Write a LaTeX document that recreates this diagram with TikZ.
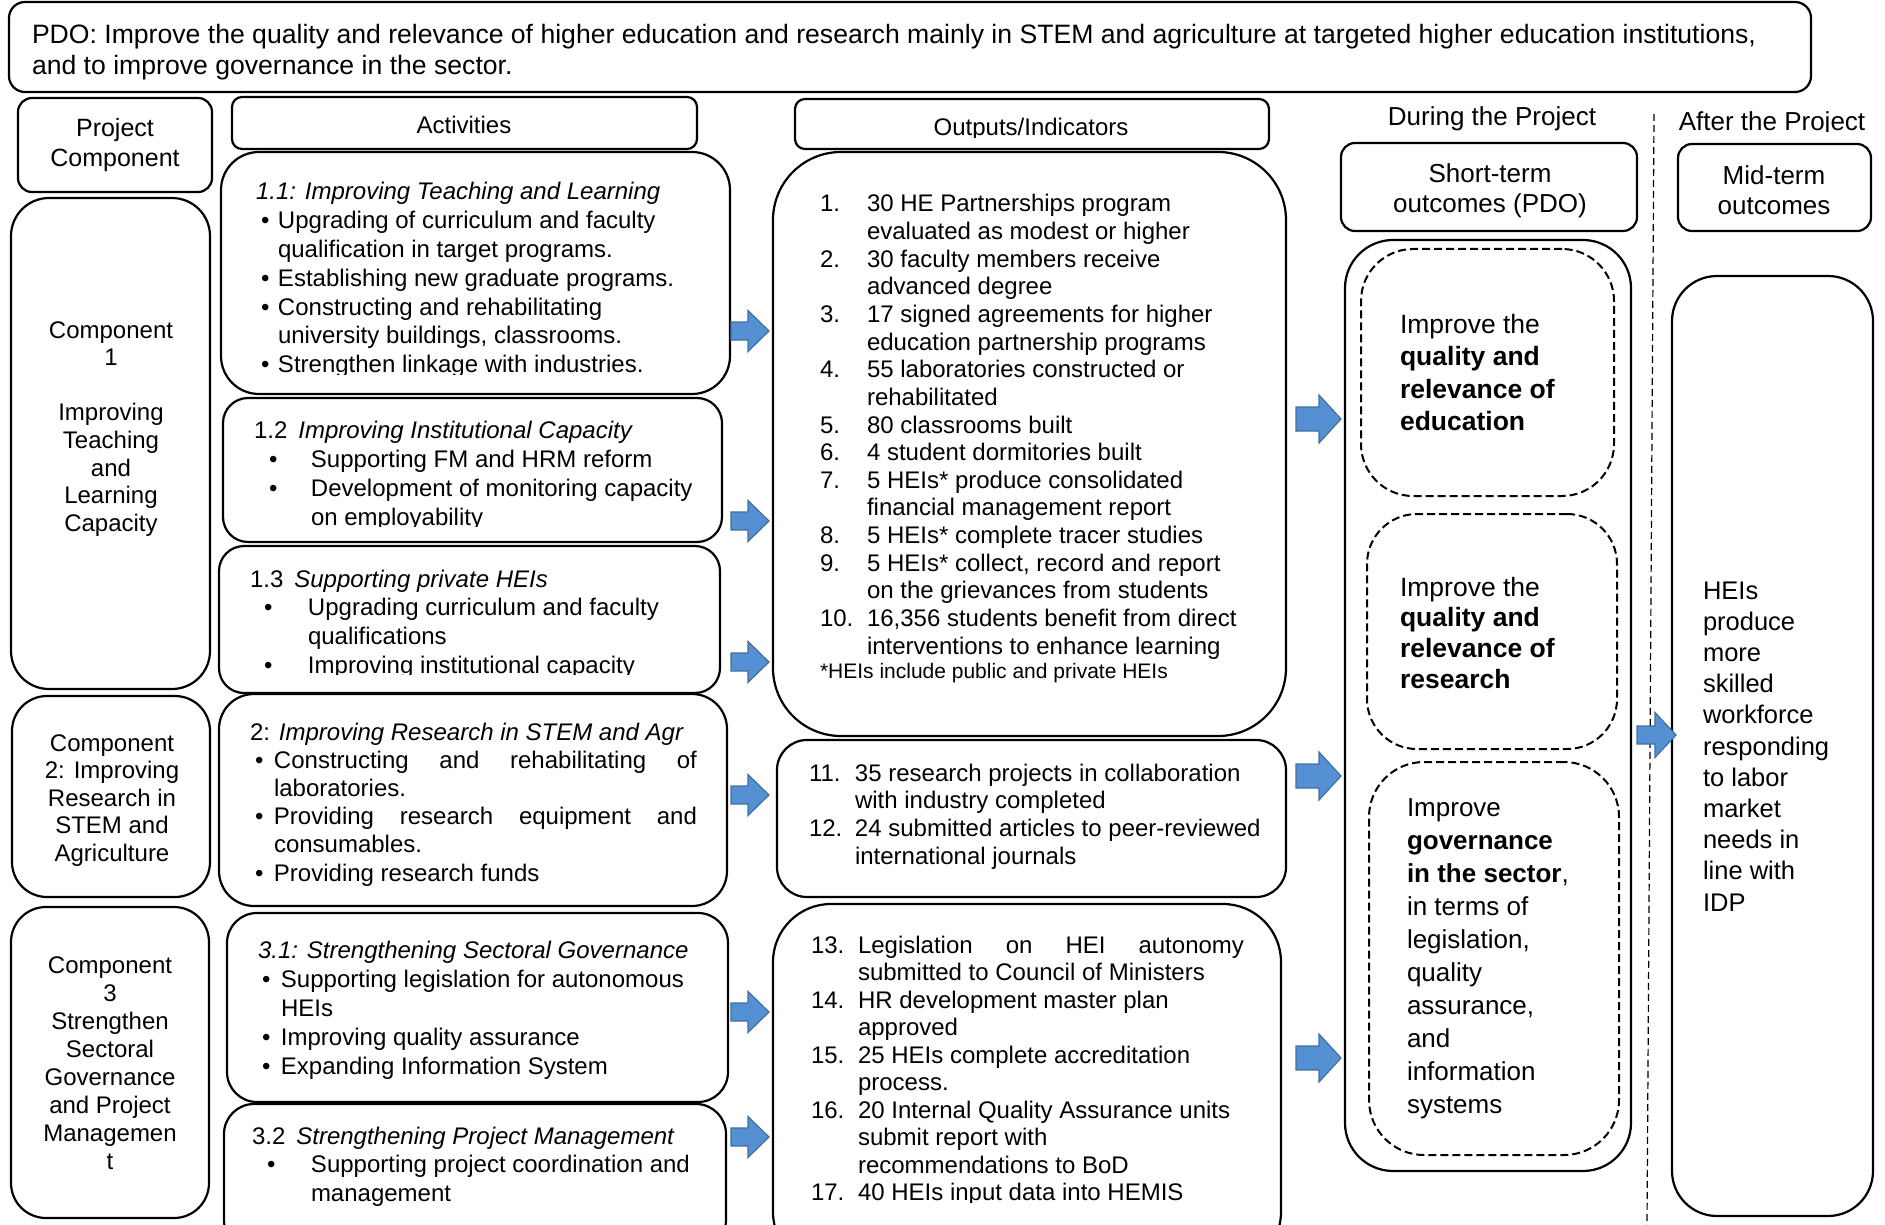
\documentclass[tikz,border=0pt]{standalone}
\usepackage{fontspec}
\setmainfont{Liberation Sans}
\definecolor{arrowfill}{HTML}{5591D2}
\definecolor{arrowdraw}{HTML}{41709F}
\newcommand\fs[2]{\fontsize{#1}{#2}\selectfont}
\newcommand\boxnode[6]{\node[#6, anchor=north west, minimum width={(#4)-(#2)}, minimum height={(#5)-(#3)}] (#1) at (#2,#3) {};}
\newcommand\blockarrow[6]{\draw[barrow] (#1,{#3-#5}) -- ({#2-#6},{#3-#5}) -- ({#2-#6},{#3-#4}) -- (#2,#3) -- ({#2-#6},{#3+#4}) -- ({#2-#6},{#3+#5}) -- (#1,{#3+#5}) -- cycle;}
\newcommand\bl[2]{\hspace*{#1}\makebox[#2][l]{•}}
\tikzset{
  rbox/.style={draw=black, line width=2.2pt, rounded corners=#1, inner sep=0pt, outer sep=0pt},
  dbox/.style={draw=black, line width=2pt, dash pattern=on 8pt off 4pt, rounded corners=#1, inner sep=0pt, outer sep=0pt},
  txt/.style={inner sep=0pt, outer sep=0pt, anchor=base west},
  ctxt/.style={inner sep=0pt, outer sep=0pt, anchor=base},
  barrow/.style={fill=arrowfill, draw=arrowdraw, line width=1.2pt, line join=miter},
}
\begin{document}
\begin{tikzpicture}[x=1pt,y=-1pt]
\useasboundingbox (0,0) rectangle (1885,1225);
\fill[white] (0,0) rectangle (1885,1225);

% ---------- boxes ----------
\boxnode{pdo}{9}{2}{1811}{92}{rbox=16pt}
\boxnode{pchead}{18}{98}{212}{192}{rbox=14pt}
\boxnode{acthead}{232}{97}{697}{149}{rbox=10pt}
\boxnode{outhead}{795}{99}{1269}{149}{rbox=10pt}
\boxnode{sthead}{1341}{143}{1637}{231}{rbox=14pt}
\boxnode{mthead}{1678}{144}{1871}{231}{rbox=14pt}

\boxnode{comp1}{11}{198}{210}{689}{rbox=38pt}
\boxnode{comp2}{12}{696}{210}{897}{rbox=35pt}
\boxnode{comp3}{11}{907}{209}{1218}{rbox=35pt}

\boxnode{act11}{221}{152}{730}{394}{rbox=38pt}
\boxnode{act12}{223}{398}{722}{542}{rbox=25pt}
\boxnode{act13}{219}{546}{720}{693}{rbox=25pt}
\boxnode{act2}{219}{694}{727}{906}{rbox=35pt}
\boxnode{act31}{227}{913}{728}{1102}{rbox=30pt}
\boxnode{act32}{224}{1104}{726}{1250}{rbox=30pt}

\boxnode{out1}{773}{152}{1286}{736}{rbox=68pt}
\boxnode{out2}{777}{740}{1286}{897}{rbox=30pt}
\boxnode{out3}{773}{904}{1281}{1270}{rbox=58pt}

\boxnode{stbox}{1345}{240}{1631}{1171}{rbox=48pt}
\boxnode{edu}{1361}{249}{1614}{496}{dbox=52pt}
\boxnode{res}{1367}{514}{1617}{749}{dbox=50pt}
\boxnode{gov}{1369}{762}{1619}{1155}{dbox=55pt}
\boxnode{mtbox}{1672}{276}{1873}{1216}{rbox=45pt}

% divider
\coordinate (divtop) at (1654,114);
\coordinate (divbot) at (1647,1225);
\draw[line width=1.2pt, dash pattern=on 7pt off 4pt] (divtop) -- (divbot);

% ---------- arrows ----------
\blockarrow{731}{769}{331}{20.5}{9}{21}
\blockarrow{731}{769}{521}{20.5}{9}{21}
\blockarrow{731}{769}{662}{20.5}{9}{21}
\blockarrow{731}{769}{795}{20.5}{9}{21}
\blockarrow{731}{769}{1012}{20.5}{9}{21}
\blockarrow{731}{769}{1137}{20.5}{9}{21}
\blockarrow{1296}{1341}{419}{24}{12}{22}
\blockarrow{1296}{1341}{776}{24}{12}{22}
\blockarrow{1296}{1341}{1058}{24}{12}{22}
\blockarrow{1637}{1676}{735}{22.5}{9}{21}

% ---------- header texts ----------
\node[txt] (pdotext) at (32,44) {\parbox[t]{1790pt}{\fs{26.6}{30.5}\mbox{PDO: Improve the quality and relevance of higher education and research mainly in STEM and agriculture at targeted higher education institutions,}\\\mbox{and to improve governance in the sector.}}};
\node[ctxt] (pctext) at (115,137) {\parbox[t]{190pt}{\centering\fs{25}{30}Project\\Component}};
\node[ctxt] (acttext) at (464,134) {\fs{24}{28}Activities};
\begin{scope}
\clip (795,99) rectangle (1269,137.5);
\node[ctxt] (outtext) at (1031,136) {\fs{24}{28}Outputs/Indicators};
\end{scope}
\node[ctxt] (during) at (1492,126) {\fs{26}{30}During the Project};
\begin{scope}
\clip (1660,100) rectangle (1885,132);
\node[ctxt] (after) at (1772,131) {\fs{26}{30}After the Project};
\end{scope}
\node[ctxt] (sttext) at (1490,183) {\parbox[t]{290pt}{\centering\fs{26}{30}Short-term\\outcomes (PDO)}};
\node[ctxt] (mttext) at (1774,185) {\parbox[t]{190pt}{\centering\fs{26}{30}Mid-term\\outcomes}};

% ---------- components ----------
\node[ctxt] (c1text) at (111,338) {\parbox[t]{190pt}{\centering\fs{24}{27.6}Component\\1\\[27.6pt]Improving\\Teaching\\and\\Learning\\Capacity}};
\node[ctxt] (c2text) at (112,751) {\parbox[t]{190pt}{\centering\fs{24}{27.6}Component\\2: Improving\\Research in\\STEM and\\Agriculture}};
\node[ctxt] (c3text) at (110,973) {\parbox[t]{190pt}{\centering\fs{24}{28}Component\\3\\Strengthen\\Sectoral\\Governance\\and Project\\Managemen\\t}};

% ---------- activities ----------
\begin{scope}
\clip (221,152) rectangle (730,374);
\node[txt] (a11text) at (256,200) {\parbox[t]{1000pt}{\fs{24}{28.8}\textit{1.1: Improving Teaching and Learning}\\
\bl{5pt}{17pt}Upgrading of curriculum and faculty\\
\hspace*{22pt}qualification in target programs.\\
\bl{5pt}{17pt}Establishing new graduate programs.\\
\bl{5pt}{17pt}Constructing and rehabilitating\\
\hspace*{22pt}university buildings, classrooms.\\
\bl{5pt}{17pt}Strengthen linkage with industries.}};
\end{scope}
\begin{scope}
\clip (223,398) rectangle (722,526);
\node[txt] (a12text) at (254,438) {\parbox[t]{1000pt}{\fs{24}{29}1.2\hspace{11pt}\textit{Improving Institutional Capacity}\\
\bl{15pt}{42pt}Supporting FM and HRM reform\\
\bl{15pt}{42pt}Development of monitoring capacity\\
\hspace*{57pt}on employability}};
\end{scope}
\begin{scope}
\clip (219,546) rectangle (720,674);
\node[txt] (a13text) at (250,587) {\parbox[t]{1000pt}{\fs{24}{28.7}1.3\hspace{11pt}\textit{Supporting private HEIs}\\
\bl{14pt}{44pt}Upgrading curriculum and faculty\\
\hspace*{58pt}qualifications\\
\bl{14pt}{44pt}Improving institutional capacity}};
\end{scope}
\node[txt] (a2text) at (250,740) {\parbox[t]{1000pt}{\fs{24}{28.2}2: \textit{Improving Research in STEM and Agr}\\
\bl{5pt}{19pt}\makebox[423pt][s]{Constructing\hfill and\hfill rehabilitating\hfill of}\\
\hspace*{24pt}laboratories.\\
\bl{5pt}{19pt}\makebox[423pt][s]{Providing\hfill research\hfill equipment\hfill and}\\
\hspace*{24pt}consumables.\\
\bl{5pt}{19pt}Providing research funds}};
\node[txt] (a31text) at (258,958) {\parbox[t]{1000pt}{\fs{24}{29}\textit{3.1: Strengthening Sectoral Governance}\\
\bl{4pt}{19pt}Supporting legislation for autonomous\\
\hspace*{23pt}HEIs\\
\bl{4pt}{19pt}Improving quality assurance\\
\bl{4pt}{19pt}Expanding Information System}};
\node[txt] (a32text) at (252,1144) {\parbox[t]{1000pt}{\fs{24}{28.5}3.2\hspace{11pt}\textit{Strengthening Project Management}\\
\bl{15pt}{44pt}Supporting project coordination and\\
\hspace*{59pt}management}};

% ---------- outputs ----------
\node[txt] (o1text) at (820,212) {\parbox[t]{1000pt}{\fs{24}{27.63}%
\makebox[47pt][l]{1.}30 HE Partnerships program\\
\hspace*{47pt}evaluated as modest or higher\\
\makebox[47pt][l]{2.}30 faculty members receive\\
\hspace*{47pt}advanced degree\\
\makebox[47pt][l]{3.}17 signed agreements for higher\\
\hspace*{47pt}education partnership programs\\
\makebox[47pt][l]{4.}55 laboratories constructed or\\
\hspace*{47pt}rehabilitated\\
\makebox[47pt][l]{5.}80 classrooms built\\
\makebox[47pt][l]{6.}4 student dormitories built\\
\makebox[47pt][l]{7.}5 HEIs* produce consolidated\\
\hspace*{47pt}financial management report\\
\makebox[47pt][l]{8.}5 HEIs* complete tracer studies\\
\makebox[47pt][l]{9.}5 HEIs* collect, record and report\\
\hspace*{47pt}on the grievances from students\\
\makebox[47pt][l]{10.}16,356 students benefit from direct\\
\hspace*{47pt}interventions to enhance learning}};
\node[txt] (o1note) at (820,678) {\fs{21}{25}*HEIs include public and private HEIs};
\node[txt] (o2text) at (809,781) {\parbox[t]{1000pt}{\fs{24}{27.7}%
\makebox[46pt][l]{11.}35 research projects in collaboration\\
\hspace*{46pt}with industry completed\\
\makebox[46pt][l]{12.}24 submitted articles to peer-reviewed\\
\hspace*{46pt}international journals}};
\begin{scope}
\clip (773,904) rectangle (1281,1202);
\node[txt] (o3text) at (811,953) {\parbox[t]{1000pt}{\fs{24}{27.5}%
\makebox[47pt][l]{13.}\makebox[386pt][s]{Legislation\hfill on\hfill HEI\hfill autonomy}\\
\hspace*{47pt}submitted to Council of Ministers\\
\makebox[47pt][l]{14.}HR development master plan\\
\hspace*{47pt}approved\\
\makebox[47pt][l]{15.}25 HEIs complete accreditation\\
\hspace*{47pt}process.\\
\makebox[47pt][l]{16.}20 Internal Quality Assurance units\\
\hspace*{47pt}submit report with\\
\hspace*{47pt}recommendations to BoD\\
\makebox[47pt][l]{17.}40 HEIs input data into HEMIS}};
\end{scope}

% ---------- outcomes ----------
\node[txt] (edutext) at (1400,333) {\parbox[t]{300pt}{\fs{26.5}{32.6}Improve the\\\textbf{quality and}\\\textbf{relevance of}\\\textbf{education}}};
\node[txt] (restext) at (1400,596) {\parbox[t]{300pt}{\fs{26.5}{30.8}Improve the\\\textbf{quality and}\\\textbf{relevance of}\\\textbf{research}}};
\node[txt] (govtext) at (1407,816) {\parbox[t]{300pt}{\fs{26}{33.1}Improve\\\textbf{governance}\\\textbf{in the sector},\\in terms of\\legislation,\\quality\\assurance,\\and\\information\\systems}};
\node[txt] (mttext2) at (1703,599) {\parbox[t]{300pt}{\fs{25.5}{31.2}HEIs\\produce\\more\\skilled\\workforce\\responding\\to labor\\market\\needs in\\line with\\IDP}};
\end{tikzpicture}
\end{document}
